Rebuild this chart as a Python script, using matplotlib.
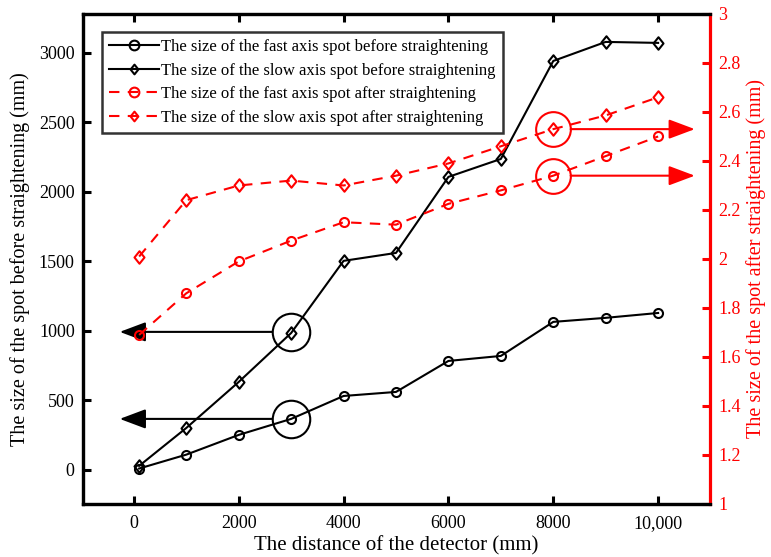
import matplotlib
matplotlib.use("Agg")
import matplotlib.pyplot as plt
from matplotlib.ticker import FixedLocator, FixedFormatter
from matplotlib.path import Path

plt.rcParams['font.family'] = ['Liberation Serif', 'DejaVu Serif']
plt.rcParams['mathtext.fontset'] = 'stix'

# ---------------- data ----------------
distance = [100, 1000, 2000, 3000, 4000, 5000, 6000, 7000, 8000, 9000, 10000]
fast_before = [10, 110, 252, 367, 532, 561, 784, 820, 1065, 1094, 1129]
slow_before = [29, 302, 633, 985, 1504, 1561, 2108, 2237, 2942, 3079, 3072]
fast_after = [1.69, 1.86, 1.99, 2.075, 2.15, 2.14, 2.225, 2.28, 2.34, 2.42, 2.50]
slow_after = [2.01, 2.24, 2.30, 2.32, 2.30, 2.34, 2.39, 2.46, 2.53, 2.586, 2.66]

x_ticks = [0, 2000, 4000, 6000, 8000, 10000]
x_tick_labels = ["0", "2000", "4000", "6000", "8000", "10,000"]
left_ticks = [0, 500, 1000, 1500, 2000, 2500, 3000]
right_ticks = [1, 1.2, 1.4, 1.6, 1.8, 2, 2.2, 2.4, 2.6, 2.8, 3]
right_tick_labels = ["1", "1.2", "1.4", "1.6", "1.8", "2", "2.2", "2.4", "2.6", "2.8", "3"]

labels = ["The size of the fast axis spot before straightening",
          "The size of the slow axis spot before straightening",
          "The size of the fast axis spot after straightening",
          "The size of the slow axis spot after straightening"]

# annotation targets (circled points)
black_marks_x = [3000, 3000]
black_marks_y = [993, 367]
black_arrow_tip_x = -270
red_marks_x = [8000, 8000]
red_marks_y = [2.53, 2.34]
red_arrow_tip_x = 10700

# diamond marker slightly narrower than tall
diamond = Path([(0, 1), (0.8, 0), (0, -1), (-0.8, 0), (0, 1)],
               [Path.MOVETO, Path.LINETO, Path.LINETO, Path.LINETO, Path.CLOSEPOLY])

# ---------------- figure ----------------
fig = plt.figure(figsize=(7.71, 5.57), dpi=100)
ax = fig.add_axes([0.1077, 0.0952, 0.9209 - 0.1077, 0.9749 - 0.0952])
ax2 = ax.twinx()

RED = '#ff0000'
l1, = ax.plot(distance, fast_before, color='black', lw=1.5, marker='o', ms=6.5,
              mfc='none', mec='black', mew=1.5)
l2, = ax.plot(distance, slow_before, color='black', lw=1.5, marker=diamond, ms=9,
              mfc='none', mec='black', mew=1.5)
l3, = ax2.plot(distance, fast_after, color=RED, lw=1.5, ls=(0, (5, 4)), marker='o', ms=6.5,
               mfc='none', mec=RED, mew=1.5)
l4, = ax2.plot(distance, slow_after, color=RED, lw=1.5, ls=(0, (5, 4)), marker=diamond, ms=9,
               mfc='none', mec=RED, mew=1.5)

ax.set_xlim(-970, 10990)
ax.set_ylim(-245, 3280)
ax2.set_ylim(1, 3)

ax.xaxis.set_major_locator(FixedLocator(x_ticks))
ax.xaxis.set_major_formatter(FixedFormatter(x_tick_labels))
ax.yaxis.set_major_locator(FixedLocator(left_ticks))
ax2.yaxis.set_major_locator(FixedLocator(right_ticks))
ax2.yaxis.set_major_formatter(FixedFormatter(right_tick_labels))

for sp in ['left', 'bottom', 'top']:
    ax.spines[sp].set_linewidth(2.3)
    ax2.spines[sp].set_linewidth(2.3)
ax.spines['right'].set_visible(False)
ax2.spines['right'].set_color(RED)
ax2.spines['right'].set_linewidth(2.3)

ax.tick_params(axis='x', direction='in', length=6, width=2.2, top=True, labelsize=13, pad=8)
ax.tick_params(axis='y', direction='in', length=6, width=2.2, labelsize=13, pad=6)
ax2.tick_params(axis='y', direction='in', length=6, width=2.2, colors=RED, labelsize=13, pad=6)

ax.set_xlabel("The distance of the detector (mm)", fontsize=15, labelpad=3)
ax.set_ylabel("The size of the spot before straightening (mm)", fontsize=14.5, labelpad=6)
ax2.set_ylabel("The size of the spot after straightening (mm)", fontsize=14.5, color=RED, labelpad=4)

# circles and arrows
ax.plot(black_marks_x, black_marks_y, ls='none', marker='o', ms=27, mfc='none',
        mec='black', mew=1.5)
for xm, ym in zip(black_marks_x, black_marks_y):
    ax.annotate('', xy=(black_arrow_tip_x, ym), xytext=(xm, ym),
                arrowprops=dict(arrowstyle='-|>,head_length=0.8,head_width=0.3',
                                mutation_scale=20, color='black', lw=1.5,
                                shrinkA=13.7, shrinkB=0))
ax2.plot(red_marks_x, red_marks_y, ls='none', marker='o', ms=25, mfc='none',
         mec=RED, mew=1.5)
for xm, ym in zip(red_marks_x, red_marks_y):
    ax2.annotate('', xy=(red_arrow_tip_x, ym), xytext=(xm, ym),
                 arrowprops=dict(arrowstyle='-|>,head_length=0.8,head_width=0.3',
                                 mutation_scale=20, color=RED, lw=1.5,
                                 shrinkA=12.5, shrinkB=0))

leg = ax2.legend([l1, l2, l3, l4], labels, loc='upper left',
                 bbox_to_anchor=(0.030, 0.963), fontsize=12, frameon=True,
                 fancybox=False, edgecolor='black', handlelength=3.0,
                 handletextpad=0.15, labelspacing=0.45, borderpad=0.42,
                 borderaxespad=0)
leg.get_frame().set_linewidth(1.8)
for h in leg.legend_handles:
    h.set_markersize(7)

fig.savefig("out.png", dpi=100)
